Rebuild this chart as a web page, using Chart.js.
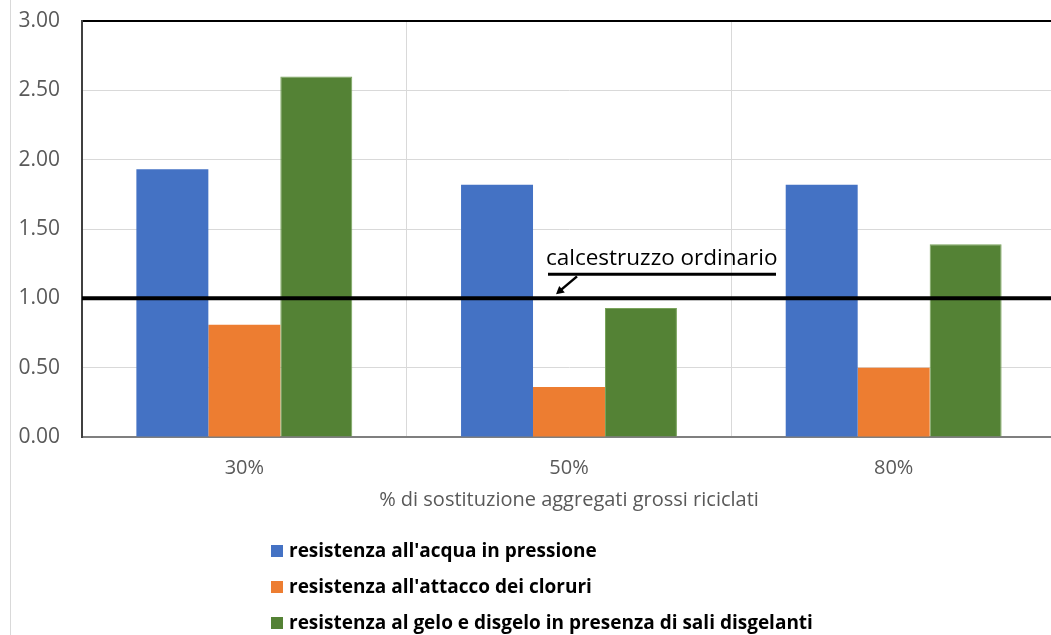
<!DOCTYPE html>
<html>
<head>
<meta charset="utf-8">
<script src="https://cdn.jsdelivr.net/npm/chart.js@4.4.1/dist/chart.umd.min.js"></script>
<style>
  html, body { margin: 0; padding: 0; background: #ffffff; overflow: hidden; }
  #wrap { position: relative; width: 1060px; height: 635px; }
</style>
</head>
<body>
<div id="wrap"><canvas id="chart" width="1060" height="635"></canvas></div>
<script>
// Categories: share of recycled coarse aggregate
const categories = ['30%', '50%', '80%'];

// Series names
const seriesNames = [
  "resistenza all'acqua in pressione",
  "resistenza all'attacco dei cloruri",
  "resistenza al gelo e disgelo in presenza di sali disgelanti"
];

// Series values (ratio to ordinary concrete)
const acquaPressione = [1.93, 1.82, 1.82];
const attaccoCloruri = [0.81, 0.36, 0.50];
const geloDisgelo    = [2.60, 0.93, 1.39];

// Y axis tick values
const yTickValues = [0, 0.5, 1.0, 1.5, 2.0, 2.5, 3.0];

// Reference level (ordinary concrete = 1)
const referenceValue = 1.00;
const referenceLabel = 'calcestruzzo ordinario';

const xAxisTitle = '% di sostituzione aggregati grossi riciclati';

const seriesColors = ['#4472C4', '#ED7D31', '#548235'];
const seriesBorders = ['#4472C4', '#ED7D31', '#79A35B'];
const seriesValues = [acquaPressione, attaccoCloruri, geloDisgelo];

const tickColor = '#595959';
const baseFont = '"Open Sans", "DejaVu Sans", sans-serif';

// Light frame line on the left edge of the chart object
const framePlugin = {
  id: 'frame',
  beforeDraw(chart) {
    const ctx = chart.ctx;
    ctx.save();
    ctx.fillStyle = '#D9D9D9';
    ctx.fillRect(10, 0, 1, chart.height);
    ctx.restore();
  }
};

// Reference line at the ordinary-concrete level, with its callout
const referencePlugin = {
  id: 'referenceLine',
  afterDatasetsDraw(chart) {
    const ctx = chart.ctx;
    const area = chart.chartArea;
    const x = chart.scales.x;
    const y = chart.scales.y;
    const yRef = y.getPixelForValue(referenceValue);
    const cx = x.getPixelForValue(1);

    ctx.save();
    // horizontal line
    ctx.strokeStyle = '#000000';
    ctx.lineWidth = 4;
    ctx.beginPath();
    ctx.moveTo(area.left, yRef);
    ctx.lineTo(area.right, yRef);
    ctx.stroke();

    // callout text
    ctx.fillStyle = '#000000';
    ctx.font = '22.5px ' + baseFont;
    ctx.textAlign = 'left';
    ctx.textBaseline = 'alphabetic';
    ctx.fillText(referenceLabel, cx - 23, yRef - 33);

    // underline below the text
    const yUnder = yRef - 24;
    ctx.lineWidth = 3;
    ctx.beginPath();
    ctx.moveTo(cx - 21, yUnder);
    ctx.lineTo(cx + 207, yUnder);
    ctx.stroke();

    // arrow pointing down-left to the line
    const x0 = cx + 8, y0 = yUnder + 2;
    const x1 = cx - 13, y1 = yRef - 4;
    ctx.lineWidth = 2.5;
    ctx.beginPath();
    ctx.moveTo(x0, y0);
    ctx.lineTo(x1 + 5, y1 - 4.5);
    ctx.stroke();
    const ang = Math.atan2(y1 - y0, x1 - x0);
    const head = 9, spread = 0.5;
    ctx.beginPath();
    ctx.moveTo(x1, y1);
    ctx.lineTo(x1 - head * Math.cos(ang - spread), y1 - head * Math.sin(ang - spread));
    ctx.lineTo(x1 - head * Math.cos(ang + spread), y1 - head * Math.sin(ang + spread));
    ctx.closePath();
    ctx.fill();
    ctx.restore();
  }
};

// Vertical legend, one series per row, below the axis title
const legendPlugin = {
  id: 'stackedLegend',
  afterDraw(chart) {
    const ctx = chart.ctx;
    const rows = [551, 587, 623];
    ctx.save();
    ctx.font = 'bold 19px ' + baseFont;
    ctx.textBaseline = 'middle';
    ctx.textAlign = 'left';
    chart.data.datasets.forEach((ds, i) => {
      const yc = rows[i];
      ctx.fillStyle = ds.backgroundColor;
      ctx.fillRect(271, yc - 6, 12, 12);
      ctx.fillStyle = '#000000';
      ctx.fillText(ds.label, 289, yc + 1);
    });
    ctx.restore();
  }
};

const datasets = seriesNames.map((name, i) => ({
  label: name,
  data: seriesValues[i],
  backgroundColor: seriesColors[i],
  borderColor: seriesBorders[i],
  borderWidth: i === 2 ? 1 : 0,
  barPercentage: 1.0,
  categoryPercentage: 0.665
}));

new Chart(document.getElementById('chart'), {
  type: 'bar',
  data: { labels: categories, datasets },
  options: {
    responsive: false,
    animation: false,
    devicePixelRatio: 1,
    layout: { padding: { top: 21, right: 4, left: 0, bottom: 123 } },
    plugins: {
      legend: { display: false },
      tooltip: { enabled: false },
      title: { display: false }
    },
    scales: {
      x: {
        afterFit(scale) { scale.height = 75; },
        grid: {
          offset: true,
          color: '#D9D9D9',
          lineWidth: 1,
          drawTicks: false
        },
        border: { color: '#7F7F7F', width: 2 },
        ticks: {
          color: tickColor,
          font: { family: baseFont, size: 20 },
          padding: 19
        },
        title: {
          display: true,
          text: xAxisTitle,
          color: tickColor,
          font: { family: baseFont, size: 20 },
          padding: { top: 4, bottom: 0 }
        }
      },
      y: {
        min: 0,
        max: 3,
        afterBuildTicks(scale) {
          scale.ticks = yTickValues.map(v => ({ value: v }));
        },
        afterFit(scale) {
          scale.width = 82;
          scale.paddingTop = 0;
          scale.paddingBottom = 0;
        },
        grid: {
          color: ctx => (ctx.tick && ctx.tick.value === 3 ? '#000000' : '#D9D9D9'),
          lineWidth: ctx => (ctx.tick && ctx.tick.value === 3 ? 2 : 1),
          drawTicks: false
        },
        border: { color: '#404040', width: 2 },
        ticks: {
          color: tickColor,
          font: { family: baseFont, size: 21 },
          padding: 22,
          callback: v => Number(v).toFixed(2)
        }
      }
    }
  },
  plugins: [framePlugin, referencePlugin, legendPlugin]
});
</script>
</body>
</html>
